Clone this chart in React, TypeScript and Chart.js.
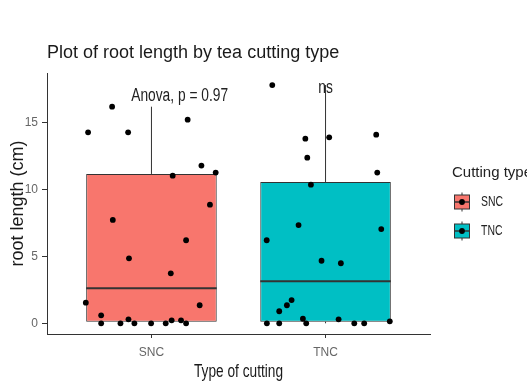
import React, { useEffect, useRef } from 'react';
import { Chart, registerables } from 'chart.js';

Chart.register(...registerables);

// ---- data ----
const categories = ['SNC', 'TNC'];
const boxColors = ['#F8766D', '#00BFC4'];
const lowerWhisker = [0, 0];
const lowerHinge = [0.12, 0.12];
const medians = [2.62, 3.14];
const upperHinge = [11.17, 10.57];
const upperWhisker = [16.2, 17.82];

// jittered points (x = category position incl. jitter, y = root length)
const sncX = [0.636, 0.774, 0.866, 1.208, 1.287, 1.369, 1.122, 1.336, 0.778, 1.199, 0.871, 1.111, 0.623, 1.277, 0.711, 0.711, 0.822, 0.868, 0.902, 0.998, 1.082, 1.116, 1.17, 1.199];
const sncY = [14.28, 16.2, 14.28, 15.23, 11.8, 11.27, 11.04, 8.87, 7.73, 6.21, 4.86, 3.74, 1.54, 1.35, 0.6, 0, 0, 0.3, 0, 0, 0, 0.22, 0.22, 0];
const tncX = [1.694, 1.884, 2.021, 2.291, 1.895, 2.297, 1.916, 1.845, 1.662, 2.32, 1.977, 2.088, 1.805, 1.778, 1.734, 1.663, 1.734, 1.87, 1.889, 2.075, 2.165, 2.222, 2.369];
const tncY = [17.82, 13.81, 13.91, 14.11, 12.39, 11.27, 10.37, 7.35, 6.21, 7.05, 4.68, 4.49, 1.74, 1.35, 0.9, 0, 0, 0.34, 0, 0.3, 0, 0, 0.15];

const yTicks = [0, 5, 10, 15];
const testLabel = 'Anova, p = 0.97';
const testLabelPos = [1.162, 17.0];
const pairLabel = 'ns';
const pairLabelPos = [2.0, 17.56];
const xTitle = 'Type of cutting';
const legendTitle = 'Cutting type';

const BOX_WIDTH = 0.75;
const REG = "'Liberation Sans', Arial, sans-serif";
const LINE = '#333333';

function squeezed(ctx: any, text: string, x: number, y: number, size: number, sx: number, align: string) {
  ctx.save();
  ctx.translate(x, y);
  ctx.scale(sx, 1);
  ctx.font = `${size}px ${REG}`;
  ctx.textAlign = align;
  ctx.textBaseline = 'middle';
  ctx.fillText(text, 0, 0);
  ctx.restore();
}

const annotationPlugin = {
  id: 'annotations',
  afterDatasetsDraw(chart: any) {
    const { ctx, scales, chartArea } = chart;
    ctx.save();
    ctx.fillStyle = '#222';
    squeezed(ctx, testLabel, scales.x.getPixelForValue(testLabelPos[0]), scales.y.getPixelForValue(testLabelPos[1]), 18, 0.765, 'center');
    squeezed(ctx, pairLabel, scales.x.getPixelForValue(pairLabelPos[0]), scales.y.getPixelForValue(pairLabelPos[1]), 18, 0.765, 'center');
    ctx.fillStyle = '#1a1a1a';
    squeezed(ctx, xTitle, (chartArea.left + chartArea.right) / 2, scales.x.bottom - 11, 18, 0.76, 'center');
    ctx.restore();
  },
};

const legendPlugin = {
  id: 'boxLegend',
  afterDraw(chart: any) {
    const { ctx, chartArea } = chart;
    const mid = (chartArea.top + chartArea.bottom) / 2;
    const left = chartArea.right + 22;
    ctx.save();
    ctx.fillStyle = '#222';
    ctx.textAlign = 'left';
    ctx.textBaseline = 'middle';
    ctx.font = `15px ${REG}`;
    ctx.fillText(legendTitle, left, mid - 30.5);
    categories.forEach((c, i) => {
      const cy = mid - 1.5 + i * 29;
      const cx = left + 10;
      ctx.strokeStyle = LINE;
      ctx.lineWidth = 1;
      ctx.beginPath();
      ctx.moveTo(cx, cy - 9.5);
      ctx.lineTo(cx, cy + 9.5);
      ctx.stroke();
      ctx.fillStyle = boxColors[i];
      ctx.fillRect(cx - 7.5, cy - 7, 15, 14);
      ctx.strokeRect(cx - 7.5, cy - 7, 15, 14);
      ctx.lineWidth = 1.5;
      ctx.beginPath();
      ctx.moveTo(cx - 7.5, cy);
      ctx.lineTo(cx + 7.5, cy);
      ctx.stroke();
      ctx.fillStyle = '#000';
      ctx.beginPath();
      ctx.arc(cx, cy, 2.9, 0, Math.PI * 2);
      ctx.fill();
      ctx.fillStyle = '#222';
      squeezed(ctx, c, left + 29, cy, 14.5, 0.72, 'left');
    });
    ctx.restore();
  },
};

function segment(x0: number, y0: number, x1: number, y1: number, width: number, order: number) {
  return {
    type: 'line' as const,
    data: [{ x: x0, y: y0 }, { x: x1, y: y1 }],
    borderColor: LINE,
    borderWidth: width,
    pointRadius: 0,
    fill: false,
    order,
  };
}

export default function App() {
  const ref = useRef<HTMLCanvasElement>(null);
  useEffect(() => {
    if (!ref.current) return;
    const whiskers = categories.flatMap((_, i) => [
      segment(i + 1, upperHinge[i], i + 1, upperWhisker[i], 1, 3),
      segment(i + 1, lowerWhisker[i], i + 1, lowerHinge[i], 1, 3),
    ]);
    const medianLines = categories.map((_, i) =>
      segment(i + 1 - BOX_WIDTH / 2, medians[i], i + 1 + BOX_WIDTH / 2, medians[i], 2, 1)
    );
    const chart = new Chart(ref.current, {
      type: 'bar',
      data: {
        datasets: [
          ...whiskers,
          {
            type: 'bar',
            data: categories.map((_, i) => ({ x: i + 1, y: [lowerHinge[i], upperHinge[i]] })),
            backgroundColor: boxColors,
            borderColor: LINE,
            borderWidth: 1,
            borderSkipped: false,
            barPercentage: BOX_WIDTH,
            categoryPercentage: 1,
            order: 2,
          },
          ...medianLines,
          {
            type: 'scatter',
            data: sncX.map((x, i) => ({ x, y: sncY[i] })),
            backgroundColor: '#000',
            borderWidth: 0,
            pointRadius: 2.9,
            order: 0,
          },
          {
            type: 'scatter',
            data: tncX.map((x, i) => ({ x, y: tncY[i] })),
            backgroundColor: '#000',
            borderWidth: 0,
            pointRadius: 2.9,
            order: 0,
          },
        ] as any,
      },
      options: {
        responsive: false,
        animation: false,
        devicePixelRatio: 1,
        layout: { padding: { left: 0, right: 97, top: 0, bottom: 0 } },
        plugins: {
          legend: { display: false },
          tooltip: { enabled: false },
          title: {
            display: true,
            text: 'Plot of root length by tea cutting type',
            align: 'start',
            fullSize: false,
            color: '#1a1a1a',
            font: { family: REG, size: 18, weight: 'normal' },
            padding: { top: 42, bottom: 9.4 },
          },
        },
        scales: {
          x: {
            type: 'linear',
            min: 0.4,
            max: 2.6,
            offset: false,
            afterBuildTicks: (s: any) => {
              s.ticks = categories.map((_, i) => ({ value: i + 1 }));
            },
            afterFit: (s: any) => {
              s.height = 49;
            },
            ticks: {
              callback: (v: any) => categories[Math.round(Number(v)) - 1] ?? '',
              color: '#666',
              font: { family: REG, size: 12 },
              padding: 7,
              maxRotation: 0,
              autoSkip: false,
            },
            grid: { display: true, offset: false, drawOnChartArea: false, drawTicks: true, tickLength: 4, color: LINE, lineWidth: 1 },
            border: { display: true, color: LINE, width: 1 },
            title: { display: false },
          },
          y: {
            type: 'linear',
            min: -0.8,
            max: 18.72,
            afterBuildTicks: (s: any) => {
              s.ticks = yTicks.map((v) => ({ value: v }));
            },
            afterFit: (s: any) => {
              s.width = 47;
            },
            ticks: {
              color: '#666',
              font: { family: REG, size: 12 },
              padding: 4,
            },
            grid: { display: true, offset: false, drawOnChartArea: false, drawTicks: true, tickLength: 5, color: LINE, lineWidth: 1 },
            border: { display: true, color: LINE, width: 1 },
            title: {
              display: true,
              text: 'root length (cm)',
              color: '#1a1a1a',
              font: { family: REG, size: 18 },
              padding: { top: 7, bottom: 0 },
            },
          },
        },
      } as any,
      plugins: [annotationPlugin, legendPlugin],
    });
    return () => chart.destroy();
  }, []);
  return (
    <div style={{ position: 'fixed', left: 0, top: 0, width: 527, height: 383, background: '#fff' }}>
      <canvas ref={ref} width={527} height={383} style={{ display: 'block' }} />
    </div>
  );
}
